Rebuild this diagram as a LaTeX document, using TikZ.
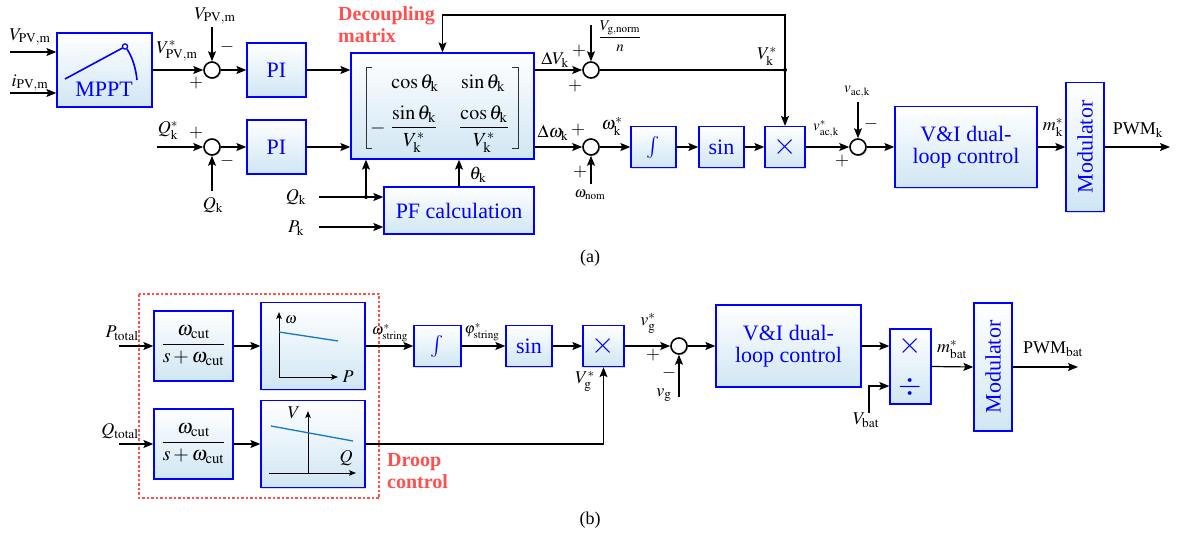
\documentclass[tikz,border=0pt]{standalone}
\usepackage{amsmath}
\usepackage{mathptmx}
\usepackage{fontspec}
\setmainfont{Liberation Serif}
\newfontfamily\tnr{Liberation Serif}
\usetikzlibrary{arrows.meta,shadows,calc}
\definecolor{boxblue}{RGB}{0,0,255}
\definecolor{boxfill}{RGB}{208,230,244}
\definecolor{redtxt}{RGB}{255,80,80}
\definecolor{droopline}{RGB}{20,120,200}
\begin{document}
\begin{tikzpicture}[x=1pt,y=-1pt,
  arr/.style={line width=1.2pt,-{Stealth[length=10pt,width=8pt,inset=2pt]}},
  sarr/.style={line width=1pt,-{Stealth[length=7pt,width=5.5pt,inset=1.5pt]}},
  ln/.style={line width=1.2pt},
  blk/.style={draw=boxblue, line width=1.3pt, top color=white, bottom color=boxfill,
    drop shadow={shadow xshift=1.2pt,shadow yshift=-1.2pt,opacity=0.3},
    inner sep=0pt, text=boxblue, font=\tnr\fontsize{22}{24}\selectfont, align=center},
  sz/.style 2 args={minimum width=#1pt, minimum height=#2pt},
  sumc/.style={circle, draw=black, line width=1.6pt, fill=white, minimum size=16pt, inner sep=0pt,
    drop shadow={shadow xshift=1.2pt,shadow yshift=-1.2pt,opacity=0.3}},
  lbl/.style={font=\tnr\fontsize{18}{20}\selectfont, inner sep=0pt},
  slbl/.style={font=\tnr\fontsize{15}{17}\selectfont, inner sep=0pt},
  mtx/.style={font=\tnr\fontsize{20}{22}\selectfont, inner sep=0pt},
  bigsym/.style={inner sep=0pt, text=boxblue, font=\fontsize{30}{32}\selectfont},
  brk/.style={line width=0.9pt, black!80},
  redlbl/.style={text=redtxt, font=\tnr\bfseries\fontsize{20}{22}\selectfont, align=left, inner sep=0pt},
  dot/.style={circle, fill=black, inner sep=0pt, minimum size=4pt}
]
\useasboundingbox (0,0) rectangle (1179,536);

% ---------------- (a) ----------------
\node[blk,sz={95}{74}] (mppt) at (104.5,70) {};
\draw[boxblue, line width=1.6pt] (65,79) -- (122.5,48);
\draw[boxblue, line width=1.6pt] (127,49) .. controls (133,58) and (136,70) .. (137,80);
\draw[boxblue, line width=1.3pt, fill=white] (125,46.5) circle (2.6pt);
\node[inner sep=0pt, text=boxblue, font=\tnr\fontsize{22}{24}\selectfont] (mpptt) at (104,89) {MPPT};

\node[sumc] (s1) at (212,70) {};
\node[sumc] (s3) at (212,147) {};
\node[blk,sz={59}{54}] (pi1) at (276.5,70) {PI};
\node[blk,sz={59}{54}] (pi2) at (276.5,147) {PI};
% decoupling matrix
\node[blk,sz={183}{106}] (mat) at (442.5,106) {};
\draw[brk] (372,67) -- (366,67) -- (366,148) -- (372,148);
\draw[brk] (512,67) -- (518,67) -- (518,148) -- (512,148);
\node[mtx] (m11) at (415,83) {$\cos\theta_{\mathrm{k}}$};
\node[mtx] (m12) at (483,83) {$\sin\theta_{\mathrm{k}}$};
\node[mtx] (mneg) at (378,128) {$-$};
\node[mtx] (m21) at (414,129) {$\dfrac{\sin\theta_{\mathrm{k}}}{V_{\mathrm{k}}^{*}}$};
\node[mtx] (m22) at (484,129) {$\dfrac{\cos\theta_{\mathrm{k}}}{V_{\mathrm{k}}^{*}}$};

\node[blk,sz={150}{47}] (pf) at (459,210.5) {PF calculation};
\node[sumc] (s2) at (591,70) {};
\node[sumc] (s4) at (591,147) {};
\node[blk,sz={45}{41}] (inta) at (653.5,147) {$\int$};
\node[blk,sz={45}{41}] (sina) at (721.5,147) {sin};
\node[blk,sz={40}{41}] (xa) at (785,147) {};
\node[bigsym] (xat) at (785,147) {$\times$};
\node[sumc] (s5) at (858,147) {};
\node[blk,sz={142}{81}] (via) at (966,147) {V\&I dual-\\[-2pt]loop control};
\node[blk,sz={38}{129}] (moda) at (1085,147) {};
\node[rotate=90, inner sep=0pt, text=boxblue, font=\tnr\fontsize{22}{24}\selectfont] (modat) at (1085,147) {Modulator};

\coordinate (vin) at (10,52);
\coordinate (iin) at (10,93);
\draw[arr] (vin) -- (vin -| mppt.west);
\draw[arr] (iin) -- (iin -| mppt.west);
\draw[arr] (mppt.east) -- (s1.west);
\coordinate (vpvtop) at (212,27);
\draw[arr] (vpvtop) -- (s1.north);
\draw[arr] (s1.east) -- (pi1.west);
\draw[arr] (pi1.east) -- (pi1.east -| mat.west);
\coordinate (qin) at (157,147);
\draw[arr] (qin) -- (s3.west);
\coordinate (qbot) at (212,191);
\draw[arr] (qbot) -- (s3.south);
\draw[arr] (s3.east) -- (pi2.west);
\draw[arr] (pi2.east) -- (pi2.east -| mat.west);
\draw[arr] (mat.east |- s2) -- (s2.west);
\draw[arr] (mat.east |- s4) -- (s4.west);
\coordinate (vgn) at (591,25);
\draw[arr] (vgn) -- (s2.north);
\coordinate (vdot) at (785,70);
\draw[ln] (s2.east) -- (vdot);
\node[dot] (vdotn) at (vdot) {};
\coordinate (fb) at (785,15);
\draw[arr] (vdot) -- (fb) -| (mat.north);
\draw[arr] (vdot) -- (xa.north);
\coordinate (wnom) at (591,184);
\draw[arr] (wnom) -- (s4.south);
\draw[arr] (s4.east) -- (inta.west);
\draw[arr] (inta.east) -- (sina.west);
\draw[arr] (sina.east) -- (xa.west);
\draw[arr] (xa.east) -- (s5.west);
\coordinate (vac) at (858,102);
\draw[arr] (vac) -- (s5.north);
\draw[arr] (s5.east) -- (via.west);
\draw[arr] (via.east) -- (moda.west);
\coordinate (pwmk) at (1170,147);
\draw[arr] (moda.east) -- (pwmk);
\coordinate (qk) at (319,197);
\coordinate (pk) at (319,227);
\draw[arr] (qk) -- (qk -| pf.west);
\node[dot] (qdot) at (366,197) {};
\draw[arr] (qdot.center) -- (qdot.center |- mat.south);
\draw[arr] (pk) -- (pk -| pf.west);
\draw[arr] (pf.north) -- (pf.north |- mat.south);

\node[lbl] (l1) at (30,37) {$V_{\mathrm{PV,m}}$};
\node[lbl] (l2) at (30,83) {$i_{\mathrm{PV,m}}$};
\node[lbl] (l3) at (177,51) {$V^{*}_{\mathrm{PV,m}}$};
\node[lbl] (l4) at (196,83) {$+$};
\node[lbl] (l5) at (215,16) {$V_{\mathrm{PV,m}}$};
\node[lbl] (l6) at (227,47) {$-$};
\node[redlbl, anchor=north west] (l7) at (338,6) {Decoupling\\matrix};
\node[lbl] (l8) at (555,60) {$\Delta V_{\mathrm{k}}$};
\node[lbl] (l9) at (579,51) {$+$};
\node[lbl] (l10) at (575,86) {$+$};
\node[slbl] (l11) at (620,36) {$\dfrac{V_{\mathrm{g,norm}}}{n}$};
\node[lbl] (l12) at (767,56) {$V_{\mathrm{k}}^{*}$};
\node[lbl] (l13) at (553,133) {$\Delta\omega_{\mathrm{k}}$};
\node[lbl] (l14) at (578,130) {$+$};
\node[lbl] (l15) at (580,172) {$+$};
\node[slbl] (l16) at (590,195) {$\omega_{\mathrm{nom}}$};
\node[lbl] (l17) at (612,126) {$\omega_{\mathrm{k}}^{*}$};
\node[slbl] (l18) at (826,129) {$v_{\mathrm{ac,k}}^{*}$};
\node[lbl] (l19) at (842,161) {$+$};
\node[slbl] (l20) at (857,92) {$v_{\mathrm{ac,k}}$};
\node[lbl] (l21) at (871,124) {$-$};
\node[lbl] (l22) at (1053,127) {$m_{\mathrm{k}}^{*}$};
\node[lbl] (l23) at (1138,130) {PWM$_{\mathrm{k}}$};
\node[lbl] (l24) at (168,130) {$Q_{\mathrm{k}}^{*}$};
\node[lbl] (l25) at (196,133) {$+$};
\node[lbl] (l26) at (213,205) {$Q_{\mathrm{k}}$};
\node[lbl] (l27) at (227,161) {$-$};
\node[lbl] (l28) at (296,197) {$Q_{\mathrm{k}}$};
\node[lbl] (l29) at (296,228) {$P_{\mathrm{k}}$};
\node[lbl] (l30) at (478,175) {$\theta_{\mathrm{k}}$};
\node[lbl] (l31) at (590,258) {(a)};

% ---------------- (b) ----------------
\draw[redtxt, line width=1.2pt, dash pattern=on 2.5pt off 2pt] (139,294) rectangle (379,498);
\node[blk,sz={79}{70},text=black,font=\tnr\fontsize{20}{22}\selectfont] (lpf1) at (193.5,346) {$\dfrac{\omega_{\mathrm{cut}}}{s+\omega_{\mathrm{cut}}}$};
\node[blk,sz={104}{87}] (dr1) at (313,346) {};
\node[blk,sz={47}{41}] (intb) at (437.5,346) {$\int$};
\node[blk,sz={46}{41}] (sinb) at (529,346) {sin};
\node[blk,sz={41}{41}] (xb) at (603.5,346) {};
\node[bigsym] (xbt) at (603.5,346) {$\times$};
\node[sumc] (sb) at (679,346) {};
\node[blk,sz={145}{82}] (vib) at (788.5,346) {V\&I dual-\\[-2pt]loop control};
\node[blk,sz={41}{75}] (xd) at (910.5,366.5) {};
\node[bigsym] (xdt) at (910.5,346) {$\times$};
\node[bigsym] (xdd) at (910.5,387) {$\div$};
\node[blk,sz={38}{128}] (modb) at (993,367) {};
\node[rotate=90, inner sep=0pt, text=boxblue, font=\tnr\fontsize{22}{24}\selectfont] (modbt) at (993,367) {Modulator};
\node[blk,sz={79}{70},text=black,font=\tnr\fontsize{20}{22}\selectfont] (lpf2) at (193.5,444) {$\dfrac{\omega_{\mathrm{cut}}}{s+\omega_{\mathrm{cut}}}$};
\node[blk,sz={104}{87}] (dr2) at (313,444) {};

% droop plots
\draw[sarr] (279,377) -- (279,312);
\draw[sarr] (279,377) -- (338,377);
\draw[droopline, line width=1.3pt] (279,332) -- (338,341);
\draw[sarr] (308,473) -- (308,411);
\draw[sarr] (269,473) -- (356,473);
\draw[droopline, line width=1.3pt] (271,426) -- (353,441);

\coordinate (pt) at (119,346);
\draw[arr] (pt) -- (pt -| lpf1.west);
\draw[arr] (lpf1.east) -- (dr1.west);
\draw[arr] (dr1.east) -- (intb.west);
\draw[arr] (intb.east) -- (sinb.west);
\draw[arr] (sinb.east) -- (xb.west);
\draw[arr] (xb.east) -- (sb.west);
\draw[arr] (sb.east) -- (vib.west);
\draw[arr] (vib.east) -- (vib.east -| xd.west);
\coordinate (vbat) at (869,413);
\coordinate (vbatc) at (869,386);
\draw[arr] (vbat) -- (vbatc) -- (vbatc -| xd.west);
\draw[arr] (xd.east) -- (modb.west);
\coordinate (pwmb) at (1078,367);
\draw[arr] (modb.east) -- (pwmb);
\coordinate (vgb) at (679,397);
\draw[arr] (vgb) -- (sb.south);
\coordinate (qt) at (119,444);
\draw[arr] (qt) -- (lpf2.west);
\draw[arr] (lpf2.east) -- (dr2.west);
\draw[arr] (dr2.east) -| (xb.south);

\node[lbl] (n1) at (122,333) {$P_{\mathrm{total}}$};
\node[lbl] (n2) at (120,431) {$Q_{\mathrm{total}}$};
\node[slbl] (n3) at (390,333) {$\omega_{\mathrm{string}}^{*}$};
\node[slbl] (n4) at (482,332) {$\varphi_{\mathrm{string}}^{*}$};
\node[lbl] (n5) at (585,381) {$V_{\mathrm{g}}^{*}$};
\node[lbl] (n6) at (648,323) {$v_{\mathrm{g}}^{*}$};
\node[lbl] (n7) at (653,355) {$+$};
\node[lbl] (n8) at (669,373) {$-$};
\node[lbl] (n9) at (664,395) {$v_{\mathrm{g}}$};
\node[lbl] (n10) at (866,420) {$V_{\mathrm{bat}}$};
\node[lbl] (n11) at (952,349) {$m_{\mathrm{bat}}^{*}$};
\node[lbl] (n12) at (1053,349) {PWM$_{\mathrm{bat}}$};
\node[slbl] (n13) at (291,320) {$\omega$};
\node[lbl] (n14) at (348,377) {$P$};
\node[lbl] (n15) at (294,413) {$V$};
\node[lbl] (n16) at (346,458) {$Q$};
\node[redlbl, anchor=north west] (n17) at (387,453) {Droop\\control};
\node[lbl] (n18) at (590,520) {(b)};
\end{tikzpicture}
\end{document}
